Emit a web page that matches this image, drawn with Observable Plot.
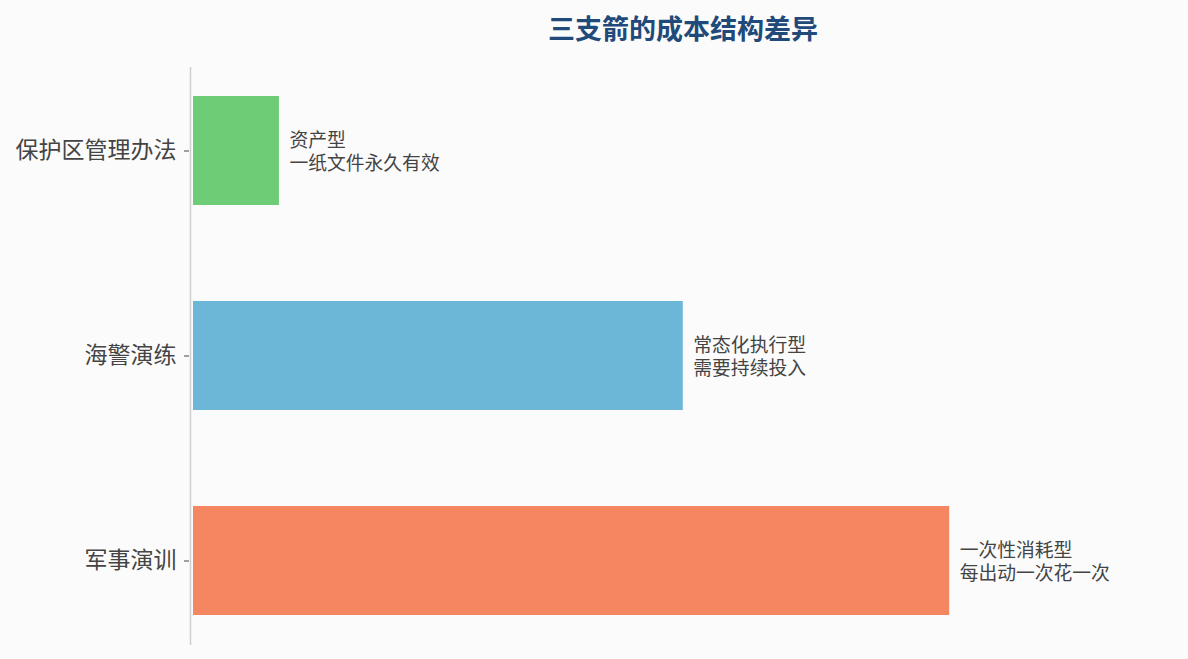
<!DOCTYPE html>
<html>
<head>
<meta charset="utf-8">
<script src="https://cdn.jsdelivr.net/npm/d3@7"></script>
<script src="https://cdn.jsdelivr.net/npm/@observablehq/plot@0.6"></script>
<style>
  html, body { margin: 0; padding: 0; background: #fbfbfb; }
  #title {
    position: relative; height: 60px; width: 1188px;
    font-family: "Noto Sans CJK SC", sans-serif; font-weight: bold;
    font-size: 27px; color: #1f4a7a;
  }
  #title span { position: absolute; left: 683px; top: 27px; transform: translate(-50%, -50%); white-space: nowrap; line-height: 1; }
</style>
</head>
<body>
<div id="title"><span>三支箭的成本结构差异</span></div>
<div id="chart"></div>
<script>
const categories = ["保护区管理办法", "海警演练", "军事演训"];
const values = [10, 57, 88];
const notes = ["资产型\n一纸文件永久有效", "常态化执行型\n需要持续投入", "一次性消耗型\n每出动一次花一次"];
const colors = ["#6dcc76", "#6cb6d8", "#f58662"];

const data = categories.map((c, i) => ({category: c, value: values[i], note: notes[i], color: colors[i]}));

const chart = Plot.plot({
  width: 1188,
  height: 599,
  marginLeft: 193,
  marginRight: 12,
  marginTop: 7,
  marginBottom: 14,
  style: {background: "#fbfbfb", fontFamily: "'Noto Sans CJK SC', sans-serif"},
  x: {domain: [0, 88 * 1.3], axis: null},
  y: {domain: categories, paddingInner: 0.466, paddingOuter: 0.14, label: null},
  marks: [
    Plot.ruleX([0], {stroke: "#cfcfcf", strokeWidth: 1.5, dx: -3}),
    Plot.barX(data, {y: "category", x: "value", fill: "color"}),
    Plot.text(data, {
      y: "category", x: "value", text: "note", textAnchor: "start", dx: 10,
      fontSize: 18.8, lineHeight: 1.2, fill: "#444", lineAnchor: "middle"
    }),
    Plot.axisY({tickSize: 5, dx: -4, tickPadding: 8, fontSize: 23, color: "#444", label: null})
  ]
});
document.getElementById("chart").appendChild(chart);
</script>
</body>
</html>
